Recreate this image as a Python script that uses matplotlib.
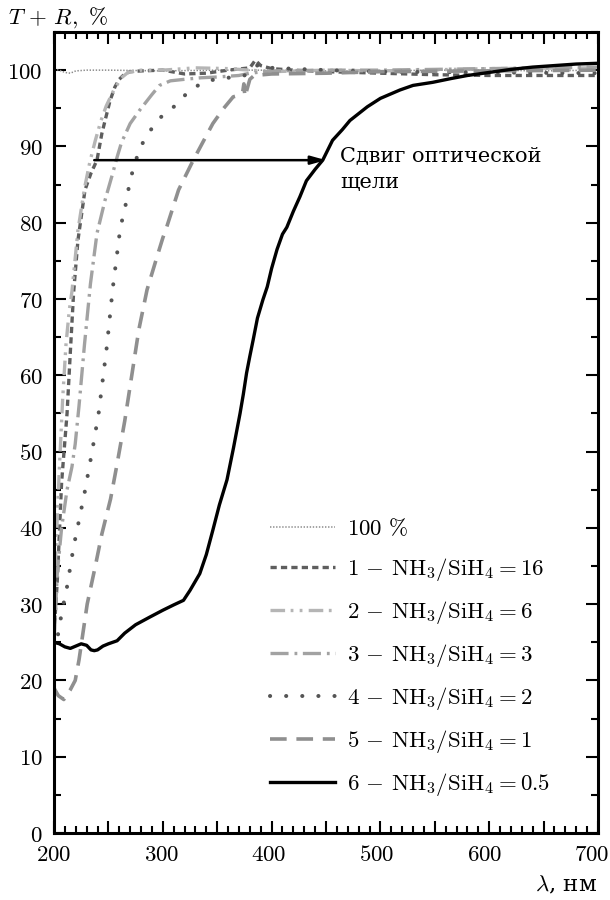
import matplotlib
matplotlib.use("Agg")
import matplotlib.pyplot as plt
from matplotlib.ticker import MultipleLocator, FuncFormatter
from matplotlib.transforms import ScaledTranslation

plt.rcParams['mathtext.fontset'] = 'cm'
plt.rcParams['font.family'] = ['DejaVu Serif', 'Liberation Serif']
plt.rcParams['lines.scale_dashes'] = False
plt.rcParams['axes.unicode_minus'] = True

# ---- data ----
x_ref = [200, 205, 210, 215, 220, 230, 250, 300, 350, 400, 450, 500, 550, 600, 650, 700]
y_ref = [100.1, 100.0, 99.7, 99.6, 99.9, 100.0, 100.0, 99.9, 100.0, 100.0, 99.9, 99.9, 100.0, 100.0, 99.9, 100.0]

x_1 = [200, 203, 207, 212, 215, 218, 222, 228.5, 234, 239.5, 244, 251.5, 256, 260, 265, 270, 280, 300,
       320, 340, 360, 380, 385, 390, 400, 420, 450, 500, 550, 600, 650, 700]
y_1 = [26, 33, 46, 55, 63, 70.8, 77.7, 84.3, 86.5, 88.2, 91.7, 96, 97.8, 98.8, 99.5, 99.8, 99.9, 100,
       99.5, 99.6, 100, 100.3, 101.3, 100.6, 100.2, 100, 99.8, 99.6, 99.4, 99.3, 99.3, 99.3]

x_2 = [200, 202, 205, 208, 211, 214, 216.5, 222, 228, 233, 238, 243, 248, 255, 262, 268, 280, 300,
       330, 360, 400, 450, 500, 600, 700]
y_2 = [30, 38, 48, 57, 64, 68.5, 71, 79, 84.5, 88, 90.8, 93.3, 95.3, 97.4, 99, 99.7, 100, 100,
       100.3, 100.2, 99.8, 100, 99.9, 100.2, 100.3]

x_3 = [200, 203, 207, 212, 216.5, 219.5, 223, 228, 233.5, 239.5, 247, 254, 258, 262, 270, 279, 290,
       297, 307, 320, 335, 350, 370, 380, 400, 450, 500, 600, 700]
y_3 = [25, 34, 40, 45, 48, 51, 56, 64, 72, 78.6, 83, 86.5, 88.6, 90.5, 93, 94.8, 96.8,
       98, 98.6, 98.8, 99, 99.1, 99.3, 99.6, 99.9, 100, 100, 100.2, 100.4]

x_4 = [200, 204, 207, 212, 218, 223, 228, 235, 241, 248.5, 254, 257.6, 261, 265, 270, 274.4, 279,
       286.5, 297, 311, 325, 335, 345, 360, 375, 385, 390, 400, 450, 500, 600, 700]
y_4 = [24, 26.2, 28.8, 32.3, 37.5, 41, 44.5, 50, 55, 63.7, 71.4, 75.5, 79.4, 81.7, 85.6, 87.8, 89.8,
       91.7, 93.7, 95.3, 97.4, 98.2, 98.7, 99, 99.3, 100.5, 100.8, 100.3, 100, 99.8, 99.7, 99.6]

x_5 = [200, 204, 209, 214.7, 219.5, 223, 230.5, 238, 244, 252, 257.5, 265, 271.5, 278, 285.5, 294.6,
       300, 303.5, 314.5, 328, 346, 356, 364.7, 370, 373.5, 374.5, 375.5, 380, 384, 400, 450, 500, 600, 700]
y_5 = [19, 18, 17.5, 18.7, 20, 22.7, 30, 35, 39.2, 43.8, 48, 54, 60, 66, 71.2, 75.5,
       78, 79.4, 84.3, 88.2, 93, 95, 96.5, 96.7, 97.2, 98.2, 96.5, 98.8, 99.3, 99.5, 99.6, 99.8, 99.9, 100]

x_6 = [200, 205, 210, 215, 220, 225, 230, 234, 237, 240, 245, 250, 258, 265, 275, 288, 300, 310, 319,
       325, 334, 340, 346, 352, 359, 365, 371, 374, 377, 380, 383, 387, 392, 396, 400, 405, 410, 414,
       420, 426, 432, 440, 447, 456, 465, 472, 480, 488, 500, 518, 530, 548, 565, 580, 600, 620, 640,
       660, 680, 700]
y_6 = [25, 24.8, 24.4, 24.2, 24.5, 24.8, 24.6, 24.0, 23.9, 24.0, 24.5, 24.8, 25.2, 26.2, 27.3, 28.3,
       29.2, 29.9, 30.5, 31.8, 34, 36.5, 39.7, 43, 46.3, 50.5, 55, 57.5, 60.3, 62.5, 64.6, 67.5, 69.9,
       71.6, 74, 76.5, 78.5, 79.4, 81.5, 83.4, 85.5, 87, 88.2, 90.8, 92.2, 93.4, 94.3, 95.2, 96.3, 97.4,
       98, 98.4, 98.9, 99.3, 99.7, 100.1, 100.4, 100.6, 100.8, 100.9]

labels = [r'$100\ \%$',
          r'$1\,-\,\mathrm{NH_3/SiH_4} = 16$',
          r'$2\,-\,\mathrm{NH_3/SiH_4} = 6$',
          r'$3\,-\,\mathrm{NH_3/SiH_4} = 3$',
          r'$4\,-\,\mathrm{NH_3/SiH_4} = 2$',
          r'$5\,-\,\mathrm{NH_3/SiH_4} = 1$',
          r'$6\,-\,\mathrm{NH_3/SiH_4} = 0.5$']

xticks_major = [200, 300, 400, 500, 600, 700]
yticks_major = [0, 10, 20, 30, 40, 50, 60, 70, 80, 90, 100]

# ---- figure ----
FS = 16.5
fig = plt.figure(figsize=(6.1, 9.0), dpi=100)
ax = fig.add_axes([54/610, 1-833/900, 544/610, 801/900])

ax.plot(x_ref, y_ref, color='#8a8a8a', lw=1.1, dashes=(1.0, 1.2), label=labels[0])
ax.plot(x_1, y_1, color='#5e5e5e', lw=2.4, dashes=(4.5, 3.0), label=labels[1])
ax.plot(x_2, y_2, color='#b5b5b5', lw=2.4, dashes=(10.5, 4.0, 2.0, 4.5, 2.0, 4.5), label=labels[2])
ax.plot(x_3, y_3, color='#a2a2a2', lw=2.4, dashes=(13.0, 4.3, 2.0, 4.0), label=labels[3])
ax.plot(x_4, y_4, color='#555555', lw=2.9, dashes=(0.1, 11.5), dash_capstyle='round', label=labels[4])
ax.plot(x_5, y_5, color='#8f8f8f', lw=2.6, dashes=(12.0, 7.0), label=labels[5])
ax.plot(x_6, y_6, color='black', lw=2.4, label=labels[6])

ax.set_xlim(200, 700)
ax.set_ylim(0, 105)

ax.xaxis.set_major_locator(MultipleLocator(50))
ax.xaxis.set_minor_locator(MultipleLocator(10))
ax.yaxis.set_major_locator(MultipleLocator(10))
ax.yaxis.set_minor_locator(MultipleLocator(5))
ax.xaxis.set_major_formatter(FuncFormatter(lambda v, p: f'${int(round(v))}$' if int(round(v)) in xticks_major else ''))
ax.yaxis.set_major_formatter(FuncFormatter(lambda v, p: f'${int(round(v))}$' if int(round(v)) in yticks_major else ''))

ax.tick_params(which='both', direction='in', top=True, right=True, width=1.5, labelsize=FS)
ax.tick_params(which='major', length=8.5)
ax.tick_params(which='minor', length=4.8)
ax.tick_params(axis='x', which='major', pad=8)
ax.tick_params(axis='y', which='major', pad=8)
for s in ax.spines.values():
    s.set_linewidth(2.2)

# arrow + annotation
ax.annotate('', xy=(450, 88.2), xytext=(237, 88.2),
            arrowprops=dict(arrowstyle='-|>,head_length=0.9,head_width=0.25', color='black', lw=1.8,
                            shrinkA=0, shrinkB=0))
ax.text(463, 89.9, 'Сдвиг оптической\nщели', fontsize=15, va='top', ha='left', linespacing=1.45,
        family=['DejaVu Serif'])

fig.text(8/610, 1-18/900, r'$T\,+\,R,\ \%$', fontsize=FS, va='center', ha='left')
fig.text(597/610, 1-885/900, r'$\lambda$, нм', fontsize=FS, va='center', ha='right')

leg = ax.legend(loc='upper left', bbox_to_anchor=(270/610, 1-518/900), bbox_transform=fig.transFigure,
                frameon=False, fontsize=FS, handlelength=2.85, handletextpad=0.5,
                labelspacing=0.7, borderpad=0, borderaxespad=0)

# small leftward drift of x tick labels, as in the reference (keeps 700 inside)
fig.canvas.draw()
for t in ax.xaxis.get_major_ticks():
    v = t.get_loc()
    dx = -(v - 200) / 500 * 6 / 100.0
    t.label1.set_transform(t.label1.get_transform() + ScaledTranslation(dx, 0, fig.dpi_scale_trans))

fig.savefig('out.png', dpi=100)
